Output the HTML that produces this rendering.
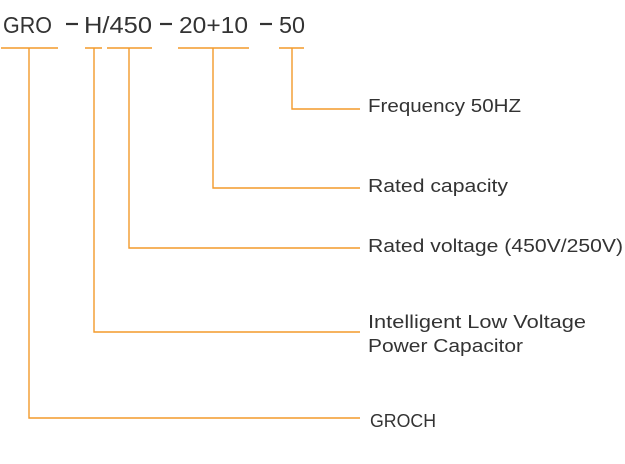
<!DOCTYPE html>
<html><head><style>html,body{margin:0;padding:0;background:#fff;}svg{display:block}</style></head>
<body>
<svg width="625" height="464" viewBox="0 0 625 464" xmlns="http://www.w3.org/2000/svg" font-family="Liberation Sans, DejaVu Sans, sans-serif" fill="#333">
<g font-size="23">
<text x="3" y="33" textLength="49" lengthAdjust="spacingAndGlyphs">GRO</text>
<text x="84" y="33" textLength="68" lengthAdjust="spacingAndGlyphs">H/450</text>
<text x="179" y="33" textLength="69" lengthAdjust="spacingAndGlyphs">20+10</text>
<text x="279" y="33" textLength="26" lengthAdjust="spacingAndGlyphs">50</text>
</g>
<g stroke="#333" stroke-width="2.2">
<line x1="66" y1="24" x2="78" y2="24"/>
<line x1="160" y1="24" x2="172" y2="24"/>
<line x1="260" y1="24" x2="272" y2="24"/>
</g>
<g stroke="#f39a2a" stroke-width="1.4" fill="none">
<line x1="1" y1="48" x2="58" y2="48"/>
<line x1="85" y1="48" x2="102" y2="48"/>
<line x1="107" y1="48" x2="152" y2="48"/>
<line x1="178" y1="48" x2="249" y2="48"/>
<line x1="279" y1="48" x2="304" y2="48"/>
<polyline points="292,48 292,109 360,109"/>
<polyline points="213,48 213,188 360,188"/>
<polyline points="129,48 129,248 360,248"/>
<polyline points="94,48 94,332 360,332"/>
<polyline points="29,48 29,418 360,418"/>
</g>
<g font-size="18">
<text x="368" y="112" textLength="153" lengthAdjust="spacingAndGlyphs">Frequency 50HZ</text>
<text x="368" y="192" textLength="140" lengthAdjust="spacingAndGlyphs">Rated capacity</text>
<text x="368" y="252" textLength="255" lengthAdjust="spacingAndGlyphs">Rated voltage (450V/250V)</text>
<text x="368" y="328" textLength="218" lengthAdjust="spacingAndGlyphs">Intelligent Low Voltage</text>
<text x="368" y="352" textLength="155" lengthAdjust="spacingAndGlyphs">Power Capacitor</text>
<text x="370" y="427" textLength="66" lengthAdjust="spacingAndGlyphs">GROCH</text>
</g>
</svg>
</body></html>
